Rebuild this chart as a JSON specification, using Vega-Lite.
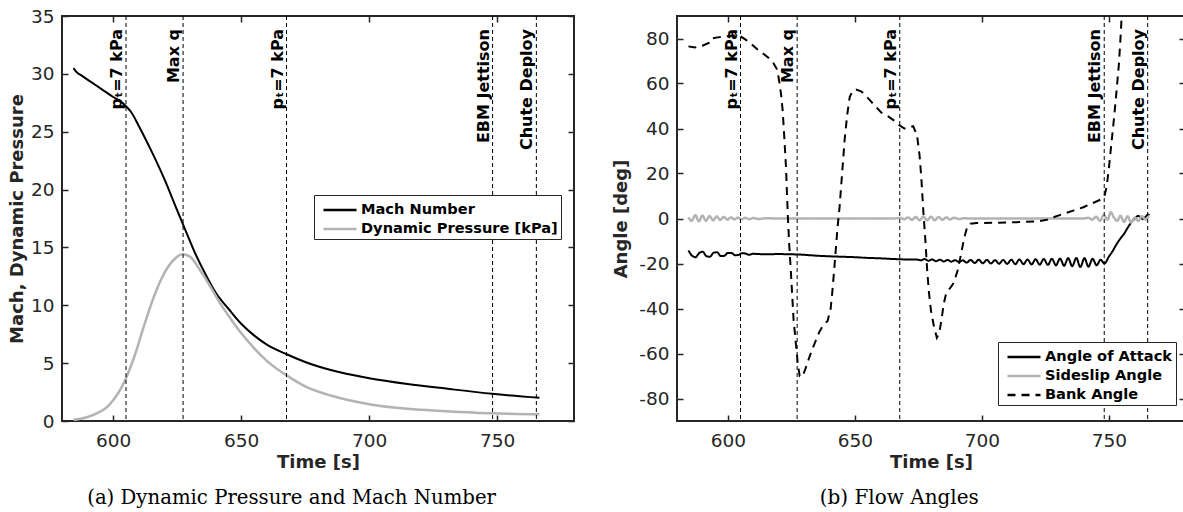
{
  "$schema": "https://vega.github.io/schema/vega-lite/v6.json",
  "padding": {"left": 7, "top": 6, "right": 0, "bottom": 0},
  "background": "white",
  "spacing": 35,
  "resolve": {"scale": {"color": "independent", "strokeDash": "independent"}, "legend": {"color": "independent", "strokeDash": "independent"}},
  "config": {
    "view": {"stroke": "#262626", "strokeWidth": 2},
    "axis": {"domain": false, "grid": false, "tickSize": -6, "tickWidth": 1.5, "tickColor": "#262626", "labelFont": "DejaVu Sans", "labelFontSize": 18.5, "labelColor": "#262626", "labelFlush": false, "labelOverlap": false, "titleFont": "DejaVu Sans", "titleFontSize": 18, "titleFontWeight": "bold", "titleColor": "#262626"},
    "axisX": {"labelPadding": 16, "titlePadding": 4},
    "axisY": {"labelPadding": 14, "titlePadding": 6},
    "legend": {"orient": "none", "title": null, "labelFont": "DejaVu Sans", "labelFontWeight": "bold", "labelFontSize": 14.6, "labelColor": "#000", "labelLimit": 400, "symbolType": "M-1.5714,0H1.5714", "symbolSize": 441, "symbolOffset": 11, "symbolStrokeWidth": 2.5, "strokeColor": "#262626", "fillColor": "white", "padding": 3, "rowPadding": 0, "labelOffset": 9},
    "text": {"font": "DejaVu Sans"}
  },
  "datasets": {
    "mach": [
      {"t": 584.5, "v": 30.5}, {"t": 585.5, "v": 30.2}, {"t": 588, "v": 29.8}, {"t": 592, "v": 29.2}, {"t": 596, "v": 28.6}, {"t": 600, "v": 28.0}, {"t": 603, "v": 27.6}, {"t": 605, "v": 27.2}, {"t": 607, "v": 26.7}, {"t": 610, "v": 25.5}, {"t": 615, "v": 23.3}, {"t": 620, "v": 20.9}, {"t": 625, "v": 18.2}, {"t": 628, "v": 16.6}, {"t": 632, "v": 14.5}, {"t": 636, "v": 12.7}, {"t": 640, "v": 11.1}, {"t": 645, "v": 9.7}, {"t": 650, "v": 8.4}, {"t": 655, "v": 7.4}, {"t": 660, "v": 6.6}, {"t": 668, "v": 5.75}, {"t": 675, "v": 5.1}, {"t": 685, "v": 4.4}, {"t": 700, "v": 3.7}, {"t": 715, "v": 3.2}, {"t": 730, "v": 2.8}, {"t": 748, "v": 2.35}, {"t": 766.5, "v": 2.0}
    ],
    "dyn": [
      {"t": 584.5, "v": 0.1}, {"t": 590, "v": 0.35}, {"t": 594, "v": 0.7}, {"t": 597, "v": 1.1}, {"t": 600, "v": 1.8}, {"t": 603, "v": 2.8}, {"t": 605, "v": 3.7}, {"t": 608, "v": 5.4}, {"t": 612, "v": 8.2}, {"t": 616, "v": 10.8}, {"t": 620, "v": 12.8}, {"t": 624, "v": 14.0}, {"t": 627, "v": 14.4}, {"t": 630, "v": 14.2}, {"t": 634, "v": 13.0}, {"t": 638, "v": 11.6}, {"t": 642, "v": 10.1}, {"t": 646, "v": 8.8}, {"t": 650, "v": 7.6}, {"t": 655, "v": 6.3}, {"t": 660, "v": 5.2}, {"t": 668, "v": 3.9}, {"t": 675, "v": 3.0}, {"t": 685, "v": 2.2}, {"t": 700, "v": 1.45}, {"t": 715, "v": 1.05}, {"t": 730, "v": 0.85}, {"t": 748, "v": 0.66}, {"t": 766.5, "v": 0.58}
    ],
    "alpha": [
      {"t": 584.5, "v": -14.2}, {"t": 586.0, "v": -16.6}, {"t": 587.3, "v": -17.2}, {"t": 588.8, "v": -15.3}, {"t": 590.2, "v": -14.8}, {"t": 591.6, "v": -16.8}, {"t": 593.0, "v": -17.0}, {"t": 594.4, "v": -15.2}, {"t": 595.8, "v": -15.0}, {"t": 597.2, "v": -16.7}, {"t": 598.6, "v": -16.6}, {"t": 600.0, "v": -15.3}, {"t": 601.4, "v": -15.3}, {"t": 602.8, "v": -16.3}, {"t": 604.2, "v": -16.2}, {"t": 605.6, "v": -15.4}, {"t": 607.0, "v": -15.6}, {"t": 608.4, "v": -16.1}, {"t": 610, "v": -15.7}, {"t": 612, "v": -15.8}, {"t": 616, "v": -15.9}, {"t": 620, "v": -15.8}, {"t": 624, "v": -15.9}, {"t": 628, "v": -16.0}, {"t": 632, "v": -16.3}, {"t": 636, "v": -16.6}, {"t": 640, "v": -16.8}, {"t": 645, "v": -17.0}, {"t": 650, "v": -17.2}, {"t": 655, "v": -17.5}, {"t": 660, "v": -17.7}, {"t": 665, "v": -18.0}, {"t": 670, "v": -18.2}, {"t": 675, "v": -18.3}, {"t": 676, "v": -18.6}, {"t": 677.5, "v": -18.0}, {"t": 679, "v": -18.8}, {"t": 680.5, "v": -18.2}, {"t": 682, "v": -19.0}, {"t": 683.5, "v": -18.3}, {"t": 685, "v": -19.1}, {"t": 686.5, "v": -18.4}, {"t": 688, "v": -19.2}, {"t": 689.5, "v": -18.5}, {"t": 691, "v": -19.3}, {"t": 692.5, "v": -18.6}, {"t": 694.0, "v": -19.6}, {"t": 695.6, "v": -18.4}, {"t": 697.2, "v": -19.8}, {"t": 698.8, "v": -18.3}, {"t": 700.4, "v": -19.9}, {"t": 702.0, "v": -18.4}, {"t": 703.6, "v": -20.0}, {"t": 705.2, "v": -18.5}, {"t": 706.8, "v": -20.1}, {"t": 708.4, "v": -18.4}, {"t": 710.0, "v": -20.2}, {"t": 711.6, "v": -18.3}, {"t": 713.2, "v": -20.3}, {"t": 714.8, "v": -18.2}, {"t": 716.4, "v": -20.3}, {"t": 718.0, "v": -18.2}, {"t": 719.6, "v": -20.4}, {"t": 721.2, "v": -18.1}, {"t": 722.8, "v": -20.5}, {"t": 724.4, "v": -18.0}, {"t": 726.0, "v": -20.6}, {"t": 727.6, "v": -17.9}, {"t": 729.2, "v": -20.8}, {"t": 730.8, "v": -17.8}, {"t": 732.4, "v": -21.0}, {"t": 734.0, "v": -17.6}, {"t": 735.6, "v": -21.2}, {"t": 737.2, "v": -17.5}, {"t": 738.8, "v": -21.6}, {"t": 740.4, "v": -17.6}, {"t": 742.0, "v": -21.4}, {"t": 743.6, "v": -17.9}, {"t": 745.2, "v": -20.8}, {"t": 746.8, "v": -18.3}, {"t": 748.3, "v": -20.0}, {"t": 750.0, "v": -17.0}, {"t": 751.5, "v": -14.5}, {"t": 753.0, "v": -11.5}, {"t": 754.5, "v": -9.0}, {"t": 756.0, "v": -6.8}, {"t": 757.5, "v": -4.0}, {"t": 759.0, "v": -1.5}, {"t": 760.5, "v": 0.2}, {"t": 761.5, "v": 1.2}, {"t": 762.5, "v": 0.5}, {"t": 763.5, "v": -0.3}, {"t": 764.5, "v": 0.8}, {"t": 765.5, "v": 1.8}, {"t": 766.0, "v": 1.5}
    ],
    "beta": [
      {"t": 584.5, "v": 0.5}, {"t": 585.8, "v": -1.0}, {"t": 587.2, "v": 1.5}, {"t": 588.6, "v": -1.2}, {"t": 590.0, "v": 1.3}, {"t": 591.4, "v": -1.0}, {"t": 592.8, "v": 1.1}, {"t": 594.2, "v": -0.8}, {"t": 595.6, "v": 0.9}, {"t": 597.0, "v": -0.6}, {"t": 598.4, "v": 0.7}, {"t": 599.8, "v": -0.5}, {"t": 601.2, "v": 0.5}, {"t": 602.6, "v": -0.4}, {"t": 604.0, "v": 0.4}, {"t": 605.4, "v": -0.3}, {"t": 607, "v": 0.3}, {"t": 608.5, "v": -0.3}, {"t": 610, "v": 0.2}, {"t": 612, "v": -0.2}, {"t": 615, "v": 0.1}, {"t": 620, "v": 0}, {"t": 640, "v": 0}, {"t": 665, "v": 0}, {"t": 668, "v": 0.2}, {"t": 669.5, "v": -0.3}, {"t": 671, "v": 0.5}, {"t": 672.5, "v": -0.6}, {"t": 674, "v": 0.7}, {"t": 675.5, "v": -0.8}, {"t": 677, "v": 0.8}, {"t": 678.5, "v": -0.8}, {"t": 680, "v": 0.8}, {"t": 681.5, "v": -0.8}, {"t": 683, "v": 0.7}, {"t": 684.5, "v": -0.6}, {"t": 686, "v": 0.5}, {"t": 687.5, "v": -0.4}, {"t": 689, "v": 0.3}, {"t": 691, "v": -0.2}, {"t": 693, "v": 0.1}, {"t": 696, "v": 0}, {"t": 740, "v": 0}, {"t": 742, "v": 0.3}, {"t": 743.5, "v": -0.5}, {"t": 745, "v": 0.8}, {"t": 746.5, "v": -1.0}, {"t": 748, "v": 1.5}, {"t": 749.5, "v": -0.5}, {"t": 750.8, "v": 2.8}, {"t": 752, "v": 0.5}, {"t": 753.3, "v": -1.0}, {"t": 754.6, "v": 1.2}, {"t": 756, "v": -1.5}, {"t": 757.4, "v": 1.0}, {"t": 758.8, "v": -1.8}, {"t": 760.2, "v": 0.5}, {"t": 761.6, "v": -1.0}, {"t": 763, "v": 1.0}, {"t": 764.5, "v": -0.5}, {"t": 765.8, "v": 1.5}
    ],
    "bank": [
      {"t": 584.5, "v": 76.5}, {"t": 587, "v": 76.0}, {"t": 590, "v": 76.8}, {"t": 592.5, "v": 78.0}, {"t": 593.5, "v": 80.0}, {"t": 596, "v": 80.5}, {"t": 600, "v": 81.0}, {"t": 603, "v": 81.5}, {"t": 605, "v": 81.0}, {"t": 607, "v": 79.5}, {"t": 609, "v": 77.8}, {"t": 611.5, "v": 75.3}, {"t": 614, "v": 73.2}, {"t": 616, "v": 71.5}, {"t": 618, "v": 69.0}, {"t": 619.5, "v": 66.0}, {"t": 620.3, "v": 60.5}, {"t": 621.0, "v": 55.0}, {"t": 621.6, "v": 48.0}, {"t": 622.2, "v": 37.0}, {"t": 622.9, "v": 23.0}, {"t": 623.6, "v": 2.0}, {"t": 624.2, "v": -12.0}, {"t": 624.8, "v": -23.0}, {"t": 625.4, "v": -35.0}, {"t": 625.9, "v": -45.0}, {"t": 626.5, "v": -52.0}, {"t": 627.0, "v": -58.0}, {"t": 627.6, "v": -65.0}, {"t": 628.3, "v": -70.0}, {"t": 629.3, "v": -70.5}, {"t": 630.5, "v": -67.0}, {"t": 632.0, "v": -62.0}, {"t": 634.0, "v": -56.0}, {"t": 636.0, "v": -50.5}, {"t": 637.5, "v": -47.5}, {"t": 639.3, "v": -45.5}, {"t": 640.5, "v": -40.0}, {"t": 641.2, "v": -32.0}, {"t": 641.8, "v": -24.0}, {"t": 642.5, "v": -14.0}, {"t": 643.2, "v": -4.0}, {"t": 644.0, "v": 5.0}, {"t": 645.0, "v": 20.0}, {"t": 646.0, "v": 35.0}, {"t": 647.0, "v": 46.0}, {"t": 648.0, "v": 54.0}, {"t": 649.0, "v": 56.5}, {"t": 650.5, "v": 57.3}, {"t": 652.5, "v": 56.5}, {"t": 654.0, "v": 55.0}, {"t": 656.0, "v": 52.5}, {"t": 658.0, "v": 50.0}, {"t": 660.5, "v": 47.0}, {"t": 663.0, "v": 45.5}, {"t": 665.5, "v": 43.5}, {"t": 667.5, "v": 41.5}, {"t": 669.5, "v": 40.0}, {"t": 671.5, "v": 40.5}, {"t": 673.0, "v": 41.0}, {"t": 674.5, "v": 37.0}, {"t": 675.5, "v": 28.0}, {"t": 676.2, "v": 18.0}, {"t": 677.0, "v": 3.0}, {"t": 677.8, "v": -10.0}, {"t": 678.5, "v": -23.0}, {"t": 679.2, "v": -33.0}, {"t": 680.0, "v": -41.0}, {"t": 681.0, "v": -47.0}, {"t": 682.3, "v": -53.0}, {"t": 683.2, "v": -51.0}, {"t": 684.0, "v": -46.0}, {"t": 685.0, "v": -38.0}, {"t": 686.0, "v": -33.0}, {"t": 687.5, "v": -31.0}, {"t": 689.0, "v": -28.5}, {"t": 690.5, "v": -23.0}, {"t": 691.8, "v": -16.0}, {"t": 693.0, "v": -9.0}, {"t": 694.2, "v": -4.0}, {"t": 695.5, "v": -2.3}, {"t": 698, "v": -2.0}, {"t": 705, "v": -1.9}, {"t": 715, "v": -1.6}, {"t": 722, "v": -1.3}, {"t": 726, "v": -0.5}, {"t": 728, "v": 0.5}, {"t": 732, "v": 2.0}, {"t": 736, "v": 3.5}, {"t": 740, "v": 5.0}, {"t": 744, "v": 7.0}, {"t": 747, "v": 8.5}, {"t": 748.3, "v": 10.0}, {"t": 749.2, "v": 14.5}, {"t": 750.0, "v": 22.0}, {"t": 751.0, "v": 33.0}, {"t": 752.0, "v": 44.0}, {"t": 753.0, "v": 56.0}, {"t": 754.0, "v": 69.0}, {"t": 754.7, "v": 82.0}, {"t": 755.3, "v": 95.0}
    ],
    "events": [
      {"t": 605.0, "label": "pₜ=7 kPa"},
      {"t": 627.3, "label": "Max q"},
      {"t": 667.7, "label": "pₜ=7 kPa"},
      {"t": 748.2, "label": "EBM Jettison"},
      {"t": 765.3, "label": "Chute Deploy"}
    ]
  },
  "hconcat": [
    {
      "width": 512,
      "height": 405,
      "title": {"text": "(a) Dynamic Pressure and Mach Number", "orient": "bottom", "anchor": "middle", "frame": "bounds", "font": "DejaVu Serif", "fontSize": 19.7, "fontWeight": "normal", "color": "#000", "offset": 16},
      "resolve": {"axis": {"x": "independent", "y": "independent"}},
      "layer": [
        {
          "data": {"name": "mach"},
          "mark": {"type": "line", "strokeWidth": 2, "clip": true, "interpolate": "monotone"},
          "encoding": {
            "x": {"field": "t", "type": "quantitative", "scale": {"domain": [580, 780], "nice": false, "zero": false}, "axis": {"orient": "bottom", "title": "Time [s]", "values": [600, 650, 700, 750]}},
            "y": {"field": "v", "type": "quantitative", "scale": {"domain": [0, 35], "nice": false}, "axis": {"orient": "left", "title": "Mach, Dynamic Pressure", "titlePadding": 4, "values": [0, 5, 10, 15, 20, 25, 30, 35]}},
            "color": {"datum": "Mach Number", "scale": {"domain": ["Mach Number", "Dynamic Pressure [kPa]"], "range": ["#000000", "#b3b3b3"]}, "legend": {"legendX": 252, "legendY": 179}}
          }
        },
        {
          "data": {"name": "dyn"},
          "mark": {"type": "line", "strokeWidth": 2.5, "clip": true, "interpolate": "monotone"},
          "encoding": {
            "x": {"field": "t", "type": "quantitative", "scale": {"domain": [580, 780], "nice": false, "zero": false}, "axis": null},
            "y": {"field": "v", "type": "quantitative", "scale": {"domain": [0, 35], "nice": false}, "axis": null},
            "color": {"datum": "Dynamic Pressure [kPa]", "scale": {"domain": ["Mach Number", "Dynamic Pressure [kPa]"], "range": ["#000000", "#b3b3b3"]}, "legend": {"legendX": 252, "legendY": 179}}
          }
        },
        {
          "data": {"name": "events"},
          "mark": {"type": "rule", "color": "#000", "strokeWidth": 1, "strokeDash": [4, 3]},
          "encoding": {
            "x": {"field": "t", "type": "quantitative", "scale": {"domain": [580, 780], "nice": false, "zero": false}, "axis": {"orient": "top", "labels": false, "title": null, "values": [600, 650, 700, 750]}}
          }
        },
        {
          "data": {"name": "events"},
          "mark": {"type": "text", "angle": 270, "align": "right", "baseline": "bottom", "dx": -13, "dy": -1, "font": "DejaVu Sans", "fontSize": 16, "fontWeight": "bold", "color": "#000"},
          "encoding": {
            "x": {"field": "t", "type": "quantitative", "scale": {"domain": [580, 780], "nice": false, "zero": false}, "axis": null},
            "y": {"datum": 35, "type": "quantitative", "scale": {"domain": [0, 35], "nice": false}, "axis": {"orient": "right", "labels": false, "title": null, "values": [0, 5, 10, 15, 20, 25, 30, 35]}},
            "text": {"field": "label"}
          }
        }
      ]
    },
    {
      "width": 508,
      "height": 405,
      "title": {"text": "(b) Flow Angles", "orient": "bottom", "anchor": "middle", "frame": "bounds", "font": "DejaVu Serif", "fontSize": 20, "fontWeight": "normal", "color": "#000", "offset": 16},
      "resolve": {"axis": {"x": "independent", "y": "independent"}},
      "layer": [
        {
          "data": {"name": "alpha"},
          "mark": {"type": "line", "strokeWidth": 2, "clip": true, "interpolate": "monotone"},
          "encoding": {
            "x": {"field": "t", "type": "quantitative", "scale": {"domain": [580, 780], "nice": false, "zero": false}, "axis": {"orient": "bottom", "title": "Time [s]", "values": [600, 650, 700, 750]}},
            "y": {"field": "v", "type": "quantitative", "scale": {"domain": [-90, 90], "nice": false}, "axis": {"orient": "left", "title": "Angle [deg]", "titlePadding": 8, "values": [-80, -60, -40, -20, 0, 20, 40, 60, 80], "labelExpr": "toString(datum.value)"}},
            "color": {"datum": "Angle of Attack", "scale": {"domain": ["Angle of Attack", "Sideslip Angle", "Bank Angle"], "range": ["#000000", "#b3b3b3", "#000000"]}, "legend": {"legendX": 321, "legendY": 326}},
            "strokeDash": {"datum": "Angle of Attack", "scale": {"domain": ["Angle of Attack", "Sideslip Angle", "Bank Angle"], "range": [[1, 0], [1, 0], [8, 6]]}, "legend": {"legendX": 321, "legendY": 326}}
          }
        },
        {
          "data": {"name": "beta"},
          "mark": {"type": "line", "strokeWidth": 2.5, "clip": true, "interpolate": "monotone"},
          "encoding": {
            "x": {"field": "t", "type": "quantitative", "scale": {"domain": [580, 780], "nice": false, "zero": false}, "axis": null},
            "y": {"field": "v", "type": "quantitative", "scale": {"domain": [-90, 90], "nice": false}, "axis": null},
            "color": {"datum": "Sideslip Angle", "scale": {"domain": ["Angle of Attack", "Sideslip Angle", "Bank Angle"], "range": ["#000000", "#b3b3b3", "#000000"]}, "legend": {"legendX": 321, "legendY": 326}},
            "strokeDash": {"datum": "Sideslip Angle", "scale": {"domain": ["Angle of Attack", "Sideslip Angle", "Bank Angle"], "range": [[1, 0], [1, 0], [8, 6]]}, "legend": {"legendX": 321, "legendY": 326}}
          }
        },
        {
          "data": {"name": "bank"},
          "mark": {"type": "line", "strokeWidth": 2, "clip": true},
          "encoding": {
            "x": {"field": "t", "type": "quantitative", "scale": {"domain": [580, 780], "nice": false, "zero": false}, "axis": null},
            "y": {"field": "v", "type": "quantitative", "scale": {"domain": [-90, 90], "nice": false}, "axis": null},
            "color": {"datum": "Bank Angle", "scale": {"domain": ["Angle of Attack", "Sideslip Angle", "Bank Angle"], "range": ["#000000", "#b3b3b3", "#000000"]}, "legend": {"legendX": 321, "legendY": 326}},
            "strokeDash": {"datum": "Bank Angle", "scale": {"domain": ["Angle of Attack", "Sideslip Angle", "Bank Angle"], "range": [[1, 0], [1, 0], [8, 6]]}, "legend": {"legendX": 321, "legendY": 326}}
          }
        },
        {
          "data": {"name": "events"},
          "mark": {"type": "rule", "color": "#000", "strokeWidth": 1, "strokeDash": [4, 3]},
          "encoding": {
            "x": {"field": "t", "type": "quantitative", "scale": {"domain": [580, 780], "nice": false, "zero": false}, "axis": {"orient": "top", "labels": false, "title": null, "values": [600, 650, 700, 750]}}
          }
        },
        {
          "data": {"name": "events"},
          "mark": {"type": "text", "angle": 270, "align": "right", "baseline": "bottom", "dx": -13, "dy": -1, "font": "DejaVu Sans", "fontSize": 16, "fontWeight": "bold", "color": "#000"},
          "encoding": {
            "x": {"field": "t", "type": "quantitative", "scale": {"domain": [580, 780], "nice": false, "zero": false}, "axis": null},
            "y": {"datum": 90, "type": "quantitative", "scale": {"domain": [-90, 90], "nice": false}, "axis": {"orient": "right", "labels": false, "title": null, "values": [-80, -60, -40, -20, 0, 20, 40, 60, 80]}},
            "text": {"field": "label"}
          }
        }
      ]
    }
  ]
}
